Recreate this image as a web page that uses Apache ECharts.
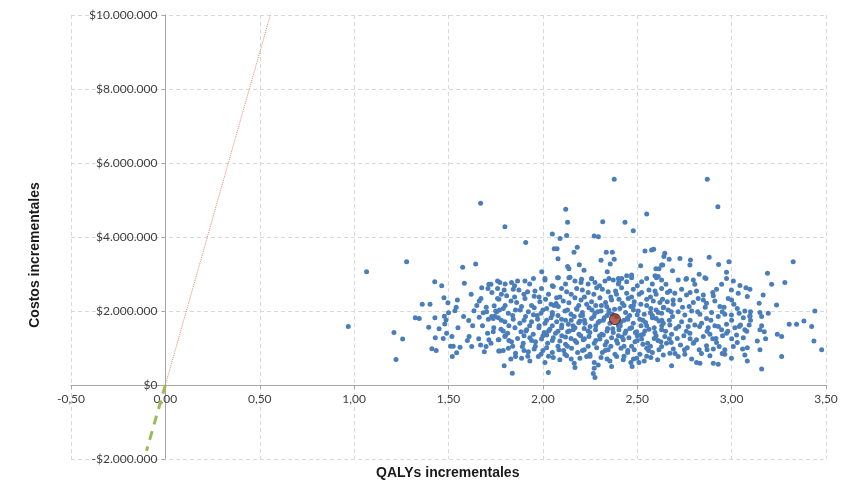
<!DOCTYPE html>
<html><head><meta charset="utf-8">
<script src="https://cdn.jsdelivr.net/npm/echarts@6/dist/echarts.min.js"></script>
<style>html,body{margin:0;padding:0;background:#fff}#c{width:865px;height:486px}</style>
</head><body><div id="c"></div>
<script>
// Axis ticks
const xTicks = [-0.5, 0, 0.5, 1, 1.5, 2, 2.5, 3, 3.5];
const yTicksM = [-2, 0, 2, 4, 6, 8, 10];
// Simulations: [incremental QALYs, incremental costs in millions]
const simLeft = [
[1.670,4.91],[1.278,3.33],[1.066,3.06],[1.575,3.18],[1.644,3.27],
[0.969,1.58],[1.211,1.42],[1.257,1.24],[1.222,0.69],[1.427,2.79],[1.464,2.68],[1.584,2.75],
[1.361,2.18],[1.402,2.18],[1.476,2.36],[1.547,2.30],[1.497,2.22],[1.541,2.10],[1.534,2.01],
[1.324,1.82],[1.345,1.80],[1.428,1.82],[1.478,1.86],[1.487,1.76],[1.395,1.56],[1.430,1.28],
[1.472,1.26],[1.490,1.40],[1.518,1.31],[1.412,0.98],[1.435,0.93],[1.511,1.05],[1.525,1.05],
[1.543,0.87],[1.520,0.77],[1.561,1.02],[1.607,1.74],[1.628,1.60],[1.609,1.31],[1.623,1.04],
[1.635,2.01],[1.663,2.27],[1.672,2.34],[1.676,2.63],[1.709,2.61],[1.714,2.72],[1.725,2.72],
[1.760,2.81],[1.702,1.98],[1.684,1.95],[1.663,1.83],[1.711,1.78],[1.729,1.85],[1.737,1.80],
[1.746,1.86],[1.742,2.14],[1.760,2.34],[1.707,1.40],[1.737,1.44],[1.714,1.22],[1.725,1.13],
[1.699,1.04],[1.670,1.08],[1.764,1.22],[1.766,0.92],
[1.55,1.55],[1.58,1.85],[1.62,2.45],[1.68,1.60],[1.70,2.10],[1.66,1.25],[1.74,1.55],[1.73,2.50],
[1.50,1.95],[1.45,1.52],[1.60,1.20],[1.69,0.90],[1.75,2.00],[1.65,2.15],[1.48,1.65]
];
const simTop = [
[2.378,5.56],[1.799,4.28],[1.909,3.85],[2.121,4.75],[2.131,4.40],[2.050,4.08],[2.091,3.96],
[2.126,4.04],[2.317,4.41],[2.435,4.40],[2.479,4.17],[2.550,4.62],[2.272,4.03],[2.294,4.01],
[2.060,3.68],[2.075,3.68],[2.182,3.72],[2.165,3.59],[2.080,3.41],[2.336,3.59],[2.368,3.59],
[2.308,3.37],[2.378,3.40],[2.357,3.27],[2.193,3.25],[2.131,3.20],[2.138,3.14],[2.218,3.10],
[2.341,3.06],[1.994,3.06],[2.541,3.62],[2.576,3.65],[2.587,3.67],[2.518,3.22],[2.599,3.14],
[2.615,3.14],[2.635,3.24],[2.011,2.88],[2.078,2.90],[2.144,2.91],[2.205,2.86],[2.259,2.88],
[2.400,2.88],[2.418,2.88],[2.444,2.95],[2.470,2.97],[2.594,2.95],[2.611,2.93],
[2.871,5.56],[2.927,4.82],[2.646,3.56],[2.641,3.47],[2.669,3.40],[2.726,3.42],[2.782,3.38],
[2.779,3.24],[2.881,3.45],[2.931,3.26],[2.986,3.33],[2.973,3.05],[2.629,3.24],[2.687,3.09],
[2.828,2.99],[2.858,2.90],[2.761,2.88],[3.326,3.33],[3.190,3.02]
];
const simCore = [
[1.772,2.77],[1.834,2.77],[1.866,2.81],[1.905,2.81],[2.011,2.84],[2.082,2.90],[2.138,2.90],
[2.170,2.81],[2.202,2.77],[2.258,2.87],[2.276,2.77],[2.329,2.81],[2.373,2.84],[2.403,2.79],
[2.444,2.79],[2.470,2.90],[2.523,2.79],[2.602,2.90],[2.629,2.84],
[1.760,2.61],[1.795,2.57],[1.843,2.59],[1.873,2.57],[1.919,2.52],[1.958,2.54],[1.993,2.61],
[2.055,2.66],[2.099,2.61],[2.126,2.52],[2.179,2.61],[2.209,2.57],[2.240,2.50],[2.285,2.63],
[2.315,2.59],[2.346,2.52],[2.385,2.54],[2.417,2.63],[2.444,2.48],[2.479,2.59],[2.523,2.50],
[2.562,2.57],[2.594,2.54],[2.629,2.61],
[1.767,2.32],[1.808,2.41],[1.831,2.27],[1.861,2.23],[1.905,2.34],[1.954,2.40],[1.984,2.25],
[2.014,2.32],[2.043,2.18],[2.073,2.36],[2.108,2.27],[2.138,2.22],[2.170,2.36],[2.202,2.30],
[2.232,2.18],[2.258,2.25],[2.302,2.36],[2.332,2.23],[2.364,2.30],[2.403,2.32],[2.421,2.21],
[2.452,2.34],[2.484,2.25],[2.519,2.18],[2.550,2.32],[2.585,2.27],[2.620,2.23],
[1.755,1.98],[1.790,2.07],[1.817,1.94],[1.855,2.03],[1.887,2.12],[1.923,1.98],[1.954,2.09],
[1.990,1.94],[2.020,2.07],[2.050,1.96],[2.082,2.12],[2.117,2.00],[2.149,1.91],[2.179,2.07],
[2.209,1.96],[2.244,2.09],[2.276,1.94],[2.308,2.00],[2.338,2.12],[2.368,1.91],[2.408,2.07],
[2.438,1.96],[2.466,2.12],[2.505,2.00],[2.537,1.91],[2.572,2.07],[2.611,1.96],[2.638,2.09],
[1.764,1.82],[1.799,1.71],[1.843,1.78],[1.878,1.67],[1.908,1.85],[1.940,1.71],[1.972,1.78],
[2.011,1.67],[2.043,1.82],[2.073,1.71],[2.099,1.78],[2.135,1.64],[2.166,1.85],[2.196,1.73],
[2.223,1.67],[2.258,1.80],[2.293,1.69],[2.325,1.82],[2.355,1.67],[2.414,1.71],[2.449,1.82],
[2.479,1.67],[2.514,1.78],[2.544,1.69],[2.580,1.82],[2.615,1.73],
[1.778,1.51],[1.813,1.40],[1.852,1.55],[1.884,1.44],[1.914,1.49],[1.949,1.37],[1.979,1.55],
[2.007,1.42],[2.037,1.51],[2.067,1.40],[2.099,1.55],[2.131,1.44],[2.161,1.49],[2.191,1.37],
[2.219,1.53],[2.249,1.42],[2.279,1.49],[2.311,1.37],[2.343,1.53],[2.373,1.42],[2.403,1.49],
[2.435,1.40],[2.461,1.53],[2.497,1.44],[2.532,1.37],[2.562,1.51],[2.594,1.42],[2.629,1.49],
[1.767,1.22],[1.799,1.31],[1.834,1.17],[1.866,1.26],[1.896,1.13],[1.931,1.28],[1.961,1.17],
[1.993,1.24],[2.025,1.13],[2.055,1.28],[2.090,1.19],[2.120,1.10],[2.149,1.26],[2.179,1.15],
[2.214,1.22],[2.244,1.31],[2.272,1.13],[2.302,1.24],[2.338,1.17],[2.364,1.28],[2.396,1.13],
[2.426,1.22],[2.456,1.28],[2.488,1.17],[2.523,1.24],[2.555,1.13],[2.590,1.26],[2.625,1.17],
[1.772,0.92],[1.817,0.99],[1.855,0.86],[1.891,1.04],[1.923,0.90],[1.954,0.97],[1.990,0.83],
[2.020,1.01],[2.050,0.88],[2.085,0.95],[2.117,0.83],[2.152,0.99],[2.184,0.88],[2.219,0.95],
[2.249,0.83],[2.285,1.01],[2.315,0.88],[2.346,0.95],[2.382,0.83],[2.414,0.99],[2.449,0.88],
[2.484,0.95],[2.514,0.83],[2.550,0.99],[2.580,0.88],[2.615,0.95],
[1.795,0.52],[1.855,0.77],[1.887,0.72],[1.931,0.65],[1.976,0.77],[2.011,0.61],[2.055,0.74],
[2.090,0.68],[2.126,0.79],[2.166,0.59],[2.196,0.72],[2.232,0.77],[2.272,0.61],[2.308,0.74],
[2.355,0.65],[2.391,0.77],[2.426,0.68],[2.466,0.61],[2.497,0.72],[2.509,0.61],[2.537,0.65],
[2.572,0.74],[2.608,0.68],
[1.838,0.32],[2.029,0.34],[2.170,0.47],[2.272,0.45],[2.267,0.31],[2.293,0.54],[2.364,0.50],
[2.473,0.50],[2.276,0.20],
[1.85,2.68],[2.05,2.68],[2.30,2.68],[2.50,2.68],
[1.78,2.45],[1.90,2.45],[2.03,2.45],[2.15,2.45],[2.27,2.45],[2.39,2.45],[2.51,2.45],[2.60,2.45],
[1.80,2.15],[1.94,2.15],[2.06,2.15],[2.19,2.15],[2.31,2.15],[2.43,2.15],[2.55,2.15],
[1.84,1.88],[1.97,1.88],[2.08,1.88],[2.21,1.88],[2.34,1.88],[2.46,1.88],[2.58,1.88],
[1.82,1.60],[1.93,1.60],[2.05,1.60],[2.16,1.60],[2.28,1.60],[2.41,1.60],[2.52,1.60],[2.63,1.60],
[1.80,1.33],[1.90,1.33],[2.00,1.33],[2.10,1.33],[2.20,1.33],[2.30,1.33],[2.40,1.33],[2.50,1.33],[2.60,1.33],
[1.84,1.05],[1.96,1.05],[2.08,1.05],[2.24,1.05],[2.36,1.05],[2.47,1.05],[2.57,1.05],
[1.92,0.78],[2.03,0.78],[2.25,0.78],[2.43,0.78],[2.55,0.78],
[2.05,1.90],[2.10,1.62],[2.15,1.75],[2.20,1.88],[2.25,1.58],[2.30,1.72],[2.35,1.95],[2.40,1.60],
[2.45,1.78],[2.50,1.90],[2.55,1.60],[2.60,1.80],[2.12,1.30],[2.22,1.25],[2.32,1.35],[2.42,1.30],
[2.52,1.35],[2.18,2.05],[2.28,2.15],[2.38,2.05],[2.48,2.15],[2.07,2.20],[1.98,1.60],[1.95,1.90],
[2.17,1.55],[2.27,1.85],[2.37,1.52],[2.47,1.55],[2.57,1.95],[2.02,1.35],[2.13,1.05],[2.33,1.08],
[2.43,1.05],[2.53,1.10],[2.08,1.45],[2.19,1.68],[2.29,1.98],[2.39,1.85],[2.49,1.42],[2.59,1.55],
[1.95,2.88],[2.35,2.88],[2.55,2.88],
[1.80,2.73],[1.93,2.73],[2.12,2.73],[2.24,2.73],[2.40,2.73],[2.58,2.73],
[1.85,2.38],[1.98,2.38],[2.09,2.38],[2.22,2.38],[2.36,2.38],[2.47,2.38],[2.57,2.38],
[1.77,2.03],[1.88,2.03],[2.00,2.03],[2.13,2.03],[2.26,2.03],[2.35,2.03],[2.48,2.03],[2.60,2.03],
[1.78,1.75],[1.90,1.75],[2.02,1.75],[2.12,1.75],[2.22,1.75],[2.32,1.75],[2.43,1.75],[2.53,1.75],[2.63,1.75],
[1.79,1.46],[1.91,1.46],[2.03,1.46],[2.14,1.46],[2.24,1.46],[2.34,1.46],[2.44,1.46],[2.54,1.46],
[1.82,1.20],[1.94,1.20],[2.05,1.20],[2.17,1.20],[2.28,1.20],[2.39,1.20],[2.50,1.20],[2.61,1.20],
[1.79,0.93],[1.90,0.93],[2.00,0.93],[2.11,0.93],[2.21,0.93],[2.33,0.93],[2.45,0.93],[2.56,0.93],
[1.83,0.70],[2.15,0.70],[2.34,0.70],[2.48,0.70]
];
const simRight = [
[2.652,2.72],[2.717,2.84],[2.758,2.86],[2.797,2.84],[2.805,2.72],[2.864,2.88],[2.973,2.88],
[3.009,2.81],[2.947,2.72],[3.044,2.69],[3.076,2.63],[3.097,2.59],[3.212,2.72],[3.282,2.77],
[2.673,2.54],[2.699,2.48],[2.735,2.59],[2.761,2.43],[2.814,2.54],[2.850,2.43],[2.903,2.41],
[2.920,2.59],[2.999,2.57],[3.035,2.48],[3.083,2.39],[3.167,2.43],[3.238,2.16],
[2.634,2.32],[2.659,2.25],[2.691,2.18],[2.726,2.30],[2.775,2.12],[2.797,2.23],[2.823,2.34],
[2.867,2.21],[2.911,2.27],[2.938,2.12],[2.982,2.34],[3.012,2.18],[3.030,2.07],[3.070,2.00],
[3.097,1.85],[3.150,1.96],[3.194,1.94],[3.146,2.21],
[2.629,1.94],[2.664,2.03],[2.687,1.85],[2.717,1.98],[2.752,1.89],[2.788,2.00],[2.832,1.91],
[2.867,1.80],[2.894,1.96],[2.929,1.85],[2.964,1.91],[2.999,1.89],[3.040,1.94],[3.062,1.82],
[3.097,1.87],[3.159,1.85],[3.441,2.00],
[2.638,1.67],[2.673,1.62],[2.705,1.53],[2.735,1.71],[2.770,1.58],[2.805,1.62],[2.841,1.67],
[2.876,1.55],[2.911,1.60],[2.947,1.49],[2.973,1.64],[3.017,1.55],[3.047,1.62],[3.070,1.49],
[3.093,1.62],[3.159,1.60],[3.173,1.44],[3.150,1.49],[3.305,1.64],[3.344,1.64],[3.383,1.73],
[3.424,1.58],
[2.646,1.31],[2.682,1.37],[2.712,1.26],[2.747,1.33],[2.779,1.40],[2.814,1.22],[2.850,1.31],
[2.885,1.37],[2.917,1.26],[2.952,1.33],[2.973,1.40],[3.026,1.35],[3.062,1.28],[3.136,1.19],
[3.242,1.37],[3.265,1.31],[3.436,1.19],
[2.629,1.04],[2.655,1.13],[2.691,0.97],[2.729,1.08],[2.765,1.01],[2.797,1.13],[2.828,0.95],
[2.867,1.06],[2.903,0.97],[2.934,1.04],[2.964,0.95],[3.009,1.04],[3.058,0.97],[3.083,1.01],
[3.477,0.95],
[2.638,0.81],[2.673,0.86],[2.717,0.77],[2.752,0.83],[2.788,0.70],[2.814,0.61],[2.832,0.59],
[2.903,0.59],[2.929,0.56],[2.885,0.79],[2.964,0.83],[2.999,0.72],[3.070,0.81],[3.083,0.65],
[3.265,0.77],[2.682,0.52],[3.159,0.43],
[2.66,2.50],[2.78,2.50],[2.90,2.50],
[2.64,2.10],[2.74,2.10],[2.86,2.10],[2.96,2.10],
[2.67,1.75],[2.78,1.75],[2.89,1.75],[3.00,1.75],[3.10,1.75],
[2.65,1.45],[2.76,1.45],[2.87,1.45],[2.98,1.45],[3.08,1.45],
[2.68,1.15],[2.80,1.15],[2.92,1.15],[3.03,1.15],
[2.70,0.85],[2.84,0.85],[2.95,0.85],
[2.69,2.30],[2.85,2.30],[3.00,2.30],
[2.68,1.98],[2.82,1.98],[2.95,1.98],[3.10,1.98],
[2.72,1.58],[2.83,1.58],[2.93,1.58],[3.04,1.58],
[2.67,1.25],[2.78,1.25],[2.90,1.25],[3.00,1.25],[3.18,1.25],
[2.75,0.95],[2.87,0.95],[3.15,0.95]
];
const meanPoint = [2.382, 1.78];
const wtpLine = [[0, 0], [0.556, 10]];
const wtpLineNeg = [[0, 0], [-0.1, -1.78]];

const M = 1e6;
const toData = arr => arr.map(p => [p[0], p[1] * M]);
const sims = toData([].concat(simLeft, simTop, simCore, simRight));

function fmtMoney(v) {
  const s = Math.abs(Math.round(v)).toString().replace(/\B(?=(\d{3})+(?!\d))/g, '.');
  return (v < 0 ? '-' : '') + '$' + s;
}
const labelFont = 'Lato, "Open Sans", sans-serif';
const titleFont = '"Liberation Sans", Arial, sans-serif';

const gridL = 71, gridR = 39, gridT = 15, gridB = 27;
const W = 865, H = 486;
const plotW = W - gridL - gridR, plotH = H - gridT - gridB;
const xMin = xTicks[0], xMax = xTicks[xTicks.length - 1];
const yMin = yTicksM[0], yMax = yTicksM[yTicksM.length - 1];
// shift axes so they cross at zero (offset measured from the grid edge)
const yAxisOffset = -plotW * (0 - xMin) / (xMax - xMin);
const xAxisOffset = -plotH * (0 - yMin) / (yMax - yMin);

const chart = echarts.init(document.getElementById('c'));
chart.setOption({
  animation: false,
  backgroundColor: '#ffffff',
  grid: { left: gridL, right: gridR, top: gridT, bottom: gridB, containLabel: false, outerBoundsMode: 'none' },
  xAxis: {
    type: 'value', min: xMin, max: xMax, interval: 0.5, position: 'bottom', offset: xAxisOffset,
    axisLine: { show: true, onZero: false, lineStyle: { color: '#a6a6a6', width: 1 } },
    axisTick: { show: true, length: 4, lineStyle: { color: '#a6a6a6' } },
    axisLabel: { color: '#404040', fontFamily: labelFont, fontSize: 12, margin: 8,
      formatter: v => v.toFixed(2).replace('.', ',') },
    splitLine: { show: true, lineStyle: { color: '#d9d9d9', type: [4, 3], width: 1 } }
  },
  yAxis: {
    type: 'value', min: yMin * M, max: yMax * M, interval: 2 * M, position: 'left', offset: yAxisOffset,
    axisLine: { show: true, onZero: false, lineStyle: { color: '#a6a6a6', width: 1 } },
    axisTick: { show: true, length: 4, lineStyle: { color: '#a6a6a6' } },
    axisLabel: { color: '#404040', fontFamily: labelFont, fontSize: 12, margin: 8, formatter: fmtMoney },
    splitLine: { show: true, lineStyle: { color: '#d9d9d9', type: [4, 3], width: 1 } }
  },
  graphic: [
    { type: 'text', left: 453 - 77, top: 466, style: { text: 'QALYs incrementales', fontFamily: titleFont,
      fontWeight: 'bold', fontSize: 14, fill: '#1a1a1a' } },
    { type: 'text', x: 28, y: 255, rotation: Math.PI / 2, style: { text: 'Costos incrementales', fontFamily: titleFont,
      fontWeight: 'bold', fontSize: 14, fill: '#1a1a1a', align: 'center', verticalAlign: 'top' } }
  ],
  series: [
    { type: 'line', data: toData(wtpLine), symbol: 'none', silent: true, z: 3,
      lineStyle: { color: '#e8866a', width: 1, type: [1, 1] } },
    { type: 'line', data: toData(wtpLineNeg), symbol: 'none', silent: true, z: 3,
      lineStyle: { color: '#9bbb59', width: 3, type: [9, 7] } },
    { type: 'scatter', data: sims, symbolSize: 5, z: 4,
      itemStyle: { color: '#4a7ebb', opacity: 1 } },
    { type: 'scatter', data: toData([meanPoint]), symbolSize: 11, z: 5,
      itemStyle: { color: '#a23a2c', borderColor: '#3d1a12', borderWidth: 1 } }
  ]
});
</script></body></html>
